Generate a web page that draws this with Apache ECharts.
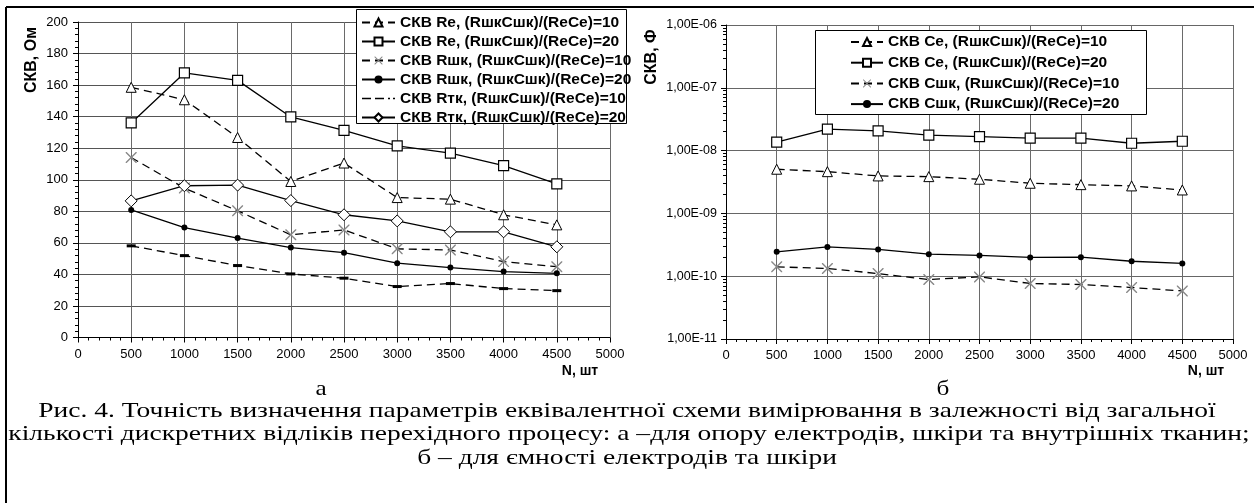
<!DOCTYPE html>
<html>
<head>
<meta charset="utf-8">
<script src="https://cdn.jsdelivr.net/npm/echarts@6/dist/echarts.min.js"></script>
<style>
html,body{margin:0;padding:0;background:#fff;}
#chart{width:1254px;height:503px;}
</style>
</head>
<body>
<div id="chart"></div>
<script>
// ---------- data ----------
const nValues = [500, 1000, 1500, 2000, 2500, 3000, 3500, 4000, 4500];

// chart (а): СКВ, Ом
const reRatio10   = [158.6, 150.7, 126.8, 98.9, 110.6, 88.7, 87.7, 77.8, 71.4];
const reRatio20   = [136.0, 167.7, 163.0, 139.8, 131.3, 121.5, 116.9, 108.9, 97.4];
const rshkRatio10 = [114.1, 94.7, 80.3, 65.1, 68.2, 56.2, 55.5, 48.1, 44.9];
const rshkRatio20 = [80.9, 69.7, 63.0, 57.0, 53.8, 47.1, 44.3, 41.8, 40.7];
const rtkRatio10  = [58.1, 51.9, 45.6, 40.3, 37.6, 32.3, 34.2, 31.0, 29.7];
const rtkRatio20  = [86.6, 96.2, 96.6, 86.8, 77.8, 73.9, 67.0, 67.0, 57.5];

// chart (б): СКВ, Ф
const ceRatio10   = [5.05e-9, 4.62e-9, 3.95e-9, 3.85e-9, 3.50e-9, 3.02e-9, 2.87e-9, 2.74e-9, 2.36e-9];
const ceRatio20   = [1.36e-8, 2.19e-8, 2.06e-8, 1.76e-8, 1.67e-8, 1.58e-8, 1.58e-8, 1.31e-8, 1.41e-8];
const cshkRatio10 = [1.41e-10, 1.33e-10, 1.10e-10, 0.885e-10, 0.975e-10, 0.766e-10, 0.738e-10, 0.66e-10, 0.583e-10];
const cshkRatio20 = [2.44e-10, 2.93e-10, 2.67e-10, 2.24e-10, 2.14e-10, 1.99e-10, 2.01e-10, 1.73e-10, 1.60e-10];

const leftNames = [
  'СКВ Re, (RшкСшк)/(ReCe)=10',
  'СКВ Re, (RшкСшк)/(ReCe)=20',
  'СКВ Rшк, (RшкСшк)/(ReCe)=10',
  'СКВ Rшк, (RшкСшк)/(ReCe)=20',
  'СКВ Rтк, (RшкСшк)/(ReCe)=10',
  'СКВ Rтк, (RшкСшк)/(ReCe)=20'
];
const rightNames = [
  'СКВ Ce, (RшкСшк)/(ReCe)=10',
  'СКВ Ce, (RшкСшк)/(ReCe)=20',
  'СКВ Сшк, (RшкСшк)/(ReCe)=10',
  'СКВ Сшк, (RшкСшк)/(ReCe)=20'
];
const rightTickLabels = ['1,00E-11', '1,00E-10', '1,00E-09', '1,00E-08', '1,00E-07', '1,00E-06'];
const leftYTitle = 'СКВ, Ом';
const rightYTitle = 'СКВ, Ф';
const xTitle = 'N, шт';
const captionLines = [
  'Рис. 4. Точність визначення параметрів еквівалентної схеми вимірювання в залежності від загальної',
  'кількості дискретних відліків перехідного процесу: а –для опору електродів, шкіри та внутрішніх тканин;',
  'б – для ємності електродів та шкіри'
];

// ---------- styles ----------
const SANS = '"Liberation Sans", Arial, sans-serif';
const SERIF = '"Liberation Serif", "Times New Roman", serif';
const DASH = [8, 5];
const CROSS = 'path://M0,0L0.9,0L5,4.1L9.1,0L10,0L10,0.9L5.9,5L10,9.1L10,10L9.1,10L5,5.9L0.9,10L0,10L0,9.1L4.1,5L0,0.9Z';
const BAR = 'path://M0,0H10V3H0Z';
const DASH_ICON = 'path://M0,0H9V1.4H0ZM13,0H22V1.4H13ZM26,0H28V1.4H26ZM31,0H33V1.4H31Z';

const markers = {
  tri:  {symbol: 'triangle', symbolSize: 10, itemStyle: {color: '#fff', borderColor: '#000', borderWidth: 1}},
  sq:   {symbol: 'rect', symbolSize: 10, itemStyle: {color: '#fff', borderColor: '#000', borderWidth: 1.2}},
  cross:{symbol: CROSS, symbolSize: 11, itemStyle: {color: '#888', borderWidth: 0}},
  dot:  {symbol: 'circle', symbolSize: 6, itemStyle: {color: '#000', borderWidth: 0}},
  bar:  {symbol: BAR, symbolSize: [9, 3], itemStyle: {color: '#000', borderWidth: 0}},
  dia:  {symbol: 'diamond', symbolSize: 12, itemStyle: {color: '#fff', borderColor: '#000', borderWidth: 1}}
};

function mkSeries(name, values, mk, dashed, idx) {
  const m = markers[mk];
  return {
    name: name, type: 'line', xAxisIndex: idx, yAxisIndex: idx,
    data: nValues.map((n, i) => [n, values[i]]),
    symbol: m.symbol, symbolSize: m.symbolSize, showSymbol: true,
    itemStyle: m.itemStyle,
    lineStyle: {color: '#000', width: 1.3, type: dashed ? DASH : 'solid'},
    emphasis: {disabled: true}, animation: false, z: 2
  };
}

function xAxisCfg(idx) {
  return {
    type: 'value', gridIndex: idx, min: 0, max: 5000, interval: 500,
    axisLine: {show: true, onZero: false, lineStyle: {color: '#000', width: 1}},
    axisTick: {show: true, inside: false, length: 5, lineStyle: {color: '#000'}},
    minorTick: {show: true, splitNumber: 5, length: 3, lineStyle: {color: '#000'}},
    axisLabel: {color: '#000', fontFamily: SANS, fontSize: 13, margin: 10,
                formatter: function (v) { return String(v); }},
    splitLine: {show: true, lineStyle: {color: '#6a6a6a', width: 1}}
  };
}

const legendText = {color: '#000', fontFamily: SANS, fontSize: 15.5, fontWeight: 'bold'};

const option = {
  backgroundColor: '#fff',
  animation: false,
  grid: [
    {left: 78, top: 22, width: 532, height: 315.5, containLabel: false},
    {left: 726, top: 25, width: 507, height: 314, containLabel: false}
  ],
  xAxis: [xAxisCfg(0), xAxisCfg(1)],
  yAxis: [
    {
      type: 'value', gridIndex: 0, min: 0, max: 200, interval: 20,
      axisLine: {show: true, onZero: false, lineStyle: {color: '#000'}},
      axisTick: {show: true, length: 5, lineStyle: {color: '#000'}},
      minorTick: {show: true, splitNumber: 5, length: 3, lineStyle: {color: '#000'}},
      axisLabel: {color: '#000', fontFamily: SANS, fontSize: 13, margin: 10},
      splitLine: {show: true, lineStyle: {color: '#555', width: 1}}
    },
    {
      type: 'log', logBase: 10, gridIndex: 1, min: 1e-11, max: 1e-6,
      axisLine: {show: true, onZero: false, lineStyle: {color: '#000'}},
      axisTick: {show: true, length: 5, lineStyle: {color: '#000'}},
      minorTick: {show: true, splitNumber: 9, length: 3, lineStyle: {color: '#000'}},
      axisLabel: {
        color: '#000', fontFamily: SANS, fontSize: 12.5, margin: 9,
        formatter: function (v) {
          const i = Math.round(Math.log10(v)) + 11;
          return rightTickLabels[i] !== undefined ? rightTickLabels[i] : '';
        }
      },
      splitLine: {show: true, lineStyle: {color: '#666', width: 1}}
    }
  ],
  legend: [
    {
      data: leftNames.map((n, i) => i === 4 ? {name: n, icon: DASH_ICON} : {name: n}),
      orient: 'vertical', left: 361, top: 13, padding: 0,
      itemWidth: 33, itemHeight: 10, itemGap: 0, z: 10,
      textStyle: Object.assign({lineHeight: 19}, legendText),
      selectedMode: false
    },
    {
      data: rightNames, orient: 'vertical', left: 850, top: 32, padding: 0,
      itemWidth: 32, itemHeight: 10, itemGap: 0.7, z: 10,
      textStyle: Object.assign({lineHeight: 20}, legendText),
      selectedMode: false
    }
  ],
  series: [
    mkSeries(leftNames[0], reRatio10, 'tri', true, 0),
    mkSeries(leftNames[1], reRatio20, 'sq', false, 0),
    mkSeries(leftNames[2], rshkRatio10, 'cross', true, 0),
    mkSeries(leftNames[3], rshkRatio20, 'dot', false, 0),
    mkSeries(leftNames[4], rtkRatio10, 'bar', true, 0),
    mkSeries(leftNames[5], rtkRatio20, 'dia', false, 0),
    mkSeries(rightNames[0], ceRatio10, 'tri', true, 1),
    mkSeries(rightNames[1], ceRatio20, 'sq', false, 1),
    mkSeries(rightNames[2], cshkRatio10, 'cross', true, 1),
    mkSeries(rightNames[3], cshkRatio20, 'dot', false, 1)
  ],
  graphic: [
    // frame
    {type: 'line', shape: {x1: 6, y1: 7, x2: 1254, y2: 7}, style: {stroke: '#000', lineWidth: 2}, z: 20},
    {type: 'line', shape: {x1: 6, y1: 7, x2: 6, y2: 503}, style: {stroke: '#000', lineWidth: 2}, z: 20},
    // legend boxes
    {type: 'rect', shape: {x: 356.5, y: 9.5, width: 270, height: 114}, style: {fill: '#fff', stroke: '#000', lineWidth: 1}, z: 5},
    {type: 'rect', shape: {x: 815.5, y: 30.5, width: 331, height: 84}, style: {fill: '#fff', stroke: '#000', lineWidth: 1}, z: 5},
    // axis titles
    {type: 'text', x: 32, y: 60, rotation: Math.PI / 2, z: 20,
     style: {text: leftYTitle, fontFamily: SANS, fontSize: 16, fontWeight: 'bold', fill: '#000', align: 'center', verticalAlign: 'middle'}},
    {type: 'text', x: 652, y: 57, rotation: Math.PI / 2, z: 20,
     style: {text: rightYTitle, fontFamily: SANS, fontSize: 16, fontWeight: 'bold', fill: '#000', align: 'center', verticalAlign: 'middle'}},
    {type: 'text', x: 580, y: 371, z: 20,
     style: {text: xTitle, fontFamily: SANS, fontSize: 14, fontWeight: 'bold', fill: '#000', align: 'center', verticalAlign: 'middle'}},
    {type: 'text', x: 1206, y: 371, z: 20,
     style: {text: xTitle, fontFamily: SANS, fontSize: 14, fontWeight: 'bold', fill: '#000', align: 'center', verticalAlign: 'middle'}},
    // sub-labels
    {type: 'text', x: 321, y: 389, scaleX: 1.2, z: 20,
     style: {text: 'а', fontFamily: SERIF, fontSize: 21, fill: '#000', align: 'center', verticalAlign: 'middle'}},
    {type: 'text', x: 943, y: 389, scaleX: 1.2, z: 20,
     style: {text: 'б', fontFamily: SERIF, fontSize: 21, fill: '#000', align: 'center', verticalAlign: 'middle'}},
    // caption (widened to match the scanned original)
    {type: 'text', x: 627, y: 411, scaleX: 1.31, z: 20,
     style: {text: captionLines[0], fontFamily: SERIF, fontSize: 21, fill: '#000', align: 'center', verticalAlign: 'middle'}},
    {type: 'text', x: 629, y: 434.5, scaleX: 1.31, z: 20,
     style: {text: captionLines[1], fontFamily: SERIF, fontSize: 21, fill: '#000', align: 'center', verticalAlign: 'middle'}},
    {type: 'text', x: 627, y: 458, scaleX: 1.31, z: 20,
     style: {text: captionLines[2], fontFamily: SERIF, fontSize: 21, fill: '#000', align: 'center', verticalAlign: 'middle'}}
  ]
};

const chart = echarts.init(document.getElementById('chart'), null, {renderer: 'canvas'});
chart.setOption(option);
</script>
</body>
</html>
